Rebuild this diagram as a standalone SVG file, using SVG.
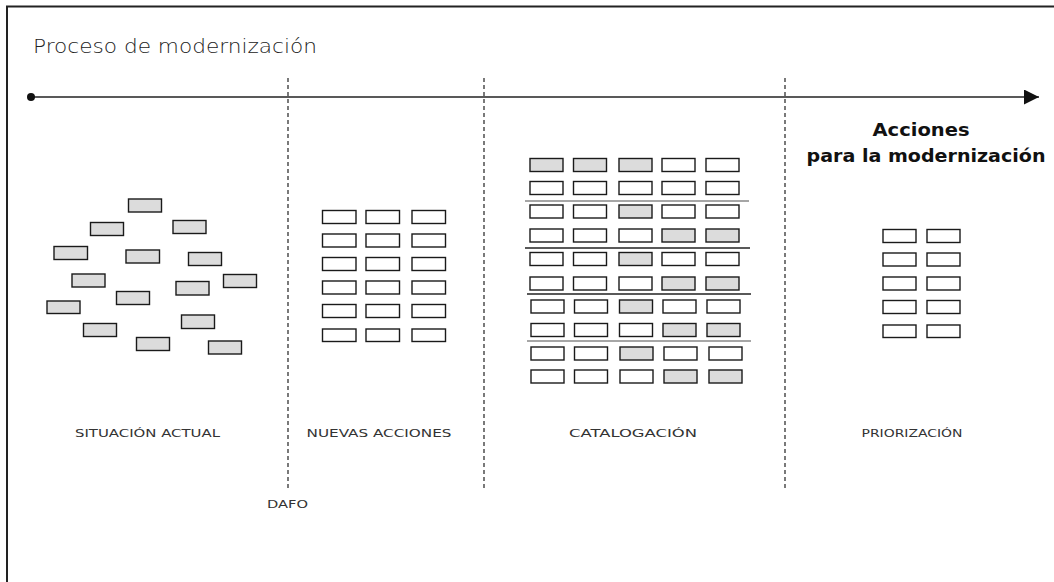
<svg xmlns="http://www.w3.org/2000/svg" width="1054" height="582" viewBox="0 0 1054 582">
<style>
.g{fill:#dcdcdc;stroke:#1a1a1a;stroke-width:1.4}
.w{fill:#fff;stroke:#1a1a1a;stroke-width:1.4}
.dash{stroke:#222;stroke-width:1.2;stroke-dasharray:4 3;fill:none}
.lbl{font-family:"DejaVu Sans","Liberation Sans",sans-serif;font-size:11px;fill:#333;text-anchor:middle}
.ttl{font-family:"DejaVu Sans","Liberation Sans",sans-serif;font-size:20px;fill:#222;font-weight:300}
.hd{font-family:"DejaVu Sans","Liberation Sans",sans-serif;font-size:17px;font-weight:bold;fill:#111;text-anchor:middle}
.sep{stroke:#222;stroke-width:1.6}
.sepg{stroke:#888;stroke-width:1.6}
</style>
<defs>
<marker id="ah" markerWidth="16" markerHeight="16" refX="15" refY="7.5" orient="auto" markerUnits="userSpaceOnUse">
<path d="M0,0 L15,7.5 L0,15 Z" fill="#111"/>
</marker>
</defs>
<rect width="1054" height="582" fill="#fff"/>
<g id="frame">
<path d="M7,582 V6.5 H1054" fill="none" stroke="#222" stroke-width="2"/>
</g>
<g id="title">
<text class="ttl" x="33" y="53" textLength="284" lengthAdjust="spacingAndGlyphs">Proceso de modernización</text>
</g>
<g id="connectors">
<line x1="31" y1="97" x2="1039" y2="97" stroke="#222" stroke-width="1.6" marker-end="url(#ah)"/>
<circle cx="31" cy="97" r="4" fill="#111"/>
<line class="dash" x1="288" y1="78" x2="288" y2="488"/>
<line class="dash" x1="484" y1="78" x2="484" y2="488"/>
<line class="dash" x1="785" y1="78" x2="785" y2="488"/>
</g>
<g id="situacion-actual">
<rect class="g" x="128.5" y="199" width="33" height="13"/>
<rect class="g" x="90.5" y="222.5" width="33" height="13"/>
<rect class="g" x="173" y="220.5" width="33" height="13"/>
<rect class="g" x="54" y="246.5" width="33.5" height="13"/>
<rect class="g" x="126" y="250" width="33.5" height="13"/>
<rect class="g" x="188.5" y="252.5" width="33" height="13"/>
<rect class="g" x="72" y="274" width="33" height="13"/>
<rect class="g" x="223.5" y="274.5" width="33" height="13"/>
<rect class="g" x="176" y="281.5" width="33" height="13.5"/>
<rect class="g" x="116.5" y="291.5" width="33" height="13"/>
<rect class="g" x="47" y="301" width="33" height="12.5"/>
<rect class="g" x="181.5" y="315" width="33" height="13.5"/>
<rect class="g" x="83.5" y="323.5" width="33" height="13"/>
<rect class="g" x="136.5" y="337.5" width="33" height="13"/>
<rect class="g" x="208.5" y="341" width="33" height="13"/>
<text class="lbl" x="147.5" y="437" textLength="145" lengthAdjust="spacingAndGlyphs">SITUACIÓN ACTUAL</text>
</g>
<g id="dafo">
<text class="lbl" x="287.5" y="508" textLength="41" lengthAdjust="spacingAndGlyphs">DAFO</text>
</g>
<g id="nuevas-acciones">
<g class="w">
<rect x="322.5" y="210.5" width="33.5" height="13"/><rect x="366" y="210.5" width="33.5" height="13"/><rect x="412" y="210.5" width="33.5" height="13"/>
<rect x="322.5" y="234" width="33.5" height="13"/><rect x="366" y="234" width="33.5" height="13"/><rect x="412" y="234" width="33.5" height="13"/>
<rect x="322.5" y="257.5" width="33.5" height="13"/><rect x="366" y="257.5" width="33.5" height="13"/><rect x="412" y="257.5" width="33.5" height="13"/>
<rect x="322.5" y="281" width="33.5" height="13"/><rect x="366" y="281" width="33.5" height="13"/><rect x="412" y="281" width="33.5" height="13"/>
<rect x="322.5" y="304.5" width="33.5" height="13"/><rect x="366" y="304.5" width="33.5" height="13"/><rect x="412" y="304.5" width="33.5" height="13"/>
<rect x="322.5" y="329" width="33.5" height="12.5"/><rect x="366" y="329" width="33.5" height="12.5"/><rect x="412" y="329" width="33.5" height="12.5"/>
</g>
<text class="lbl" x="379" y="437" textLength="145" lengthAdjust="spacingAndGlyphs">NUEVAS ACCIONES</text>
</g>
<g id="catalogacion">
<line class="sepg" x1="525" y1="201" x2="749" y2="201"/>
<line class="sep" x1="525" y1="248" x2="750" y2="248"/>
<line class="sep" x1="527" y1="294" x2="751" y2="294"/>
<line class="sepg" x1="527" y1="341" x2="751" y2="341"/>
<rect class="g" x="530" y="158.5" width="33" height="13"/><rect class="g" x="573.5" y="158.5" width="33" height="13"/><rect class="g" x="619" y="158.5" width="33" height="13"/><rect class="w" x="662" y="158.5" width="33" height="13"/><rect class="w" x="706" y="158.5" width="33" height="13"/>
<rect class="w" x="530" y="181.5" width="33" height="13"/><rect class="w" x="573.5" y="181.5" width="33" height="13"/><rect class="w" x="619" y="181.5" width="33" height="13"/><rect class="w" x="662" y="181.5" width="33" height="13"/><rect class="w" x="706" y="181.5" width="33" height="13"/>
<rect class="w" x="530" y="205" width="33" height="13"/><rect class="w" x="573.5" y="205" width="33" height="13"/><rect class="g" x="619" y="205" width="33" height="13"/><rect class="w" x="662" y="205" width="33" height="13"/><rect class="w" x="706" y="205" width="33" height="13"/>
<rect class="w" x="530" y="229" width="33" height="13"/><rect class="w" x="573.5" y="229" width="33" height="13"/><rect class="w" x="619" y="229" width="33" height="13"/><rect class="g" x="662" y="229" width="33" height="13"/><rect class="g" x="706" y="229" width="33" height="13"/>
<rect class="w" x="530" y="252.5" width="33" height="13"/><rect class="w" x="573.5" y="252.5" width="33" height="13"/><rect class="g" x="619" y="252.5" width="33" height="13"/><rect class="w" x="662" y="252.5" width="33" height="13"/><rect class="w" x="706" y="252.5" width="33" height="13"/>
<rect class="w" x="530" y="277" width="33" height="13"/><rect class="w" x="573.5" y="277" width="33" height="13"/><rect class="w" x="619" y="277" width="33" height="13"/><rect class="g" x="662" y="277" width="33" height="13"/><rect class="g" x="706" y="277" width="33" height="13"/>
<rect class="w" x="531" y="300" width="33" height="13"/><rect class="w" x="574.5" y="300" width="33" height="13"/><rect class="g" x="619.5" y="300" width="33" height="13"/><rect class="w" x="663" y="300" width="33" height="13"/><rect class="w" x="707" y="300" width="33" height="13"/>
<rect class="w" x="531" y="323.5" width="33" height="13"/><rect class="w" x="574.5" y="323.5" width="33" height="13"/><rect class="w" x="619.5" y="323.5" width="33" height="13"/><rect class="g" x="663" y="323.5" width="33" height="13"/><rect class="g" x="707" y="323.5" width="33" height="13"/>
<rect class="w" x="531" y="347" width="33" height="13"/><rect class="w" x="574.5" y="347" width="33" height="13"/><rect class="g" x="620" y="347" width="33" height="13"/><rect class="w" x="664" y="347" width="33" height="13"/><rect class="w" x="709" y="347" width="33" height="13"/>
<rect class="w" x="531" y="370" width="33" height="13"/><rect class="w" x="574.5" y="370" width="33" height="13"/><rect class="w" x="620" y="370" width="33" height="13"/><rect class="g" x="664" y="370" width="33" height="13"/><rect class="g" x="709" y="370" width="33" height="13"/>
<text class="lbl" x="633" y="437" textLength="128" lengthAdjust="spacingAndGlyphs">CATALOGACIÓN</text>
</g>
<g id="acciones-modernizacion">
<text class="hd" x="921" y="136" textLength="97" lengthAdjust="spacingAndGlyphs">Acciones</text>
<text class="hd" x="926" y="162" textLength="239" lengthAdjust="spacingAndGlyphs">para la modernización</text>
</g>
<g id="priorizacion">
<g class="w">
<rect x="883" y="229.5" width="33" height="13"/><rect x="927" y="229.5" width="33" height="13"/>
<rect x="883" y="253" width="33" height="13"/><rect x="927" y="253" width="33" height="13"/>
<rect x="883" y="277" width="33" height="13"/><rect x="927" y="277" width="33" height="13"/>
<rect x="883" y="300.5" width="33" height="13"/><rect x="927" y="300.5" width="33" height="13"/>
<rect x="883" y="325" width="33" height="12.5"/><rect x="927" y="325" width="33" height="12.5"/>
</g>
<text class="lbl" x="912" y="437" textLength="101" lengthAdjust="spacingAndGlyphs">PRIORIZACIÓN</text>
</g>
</svg>
